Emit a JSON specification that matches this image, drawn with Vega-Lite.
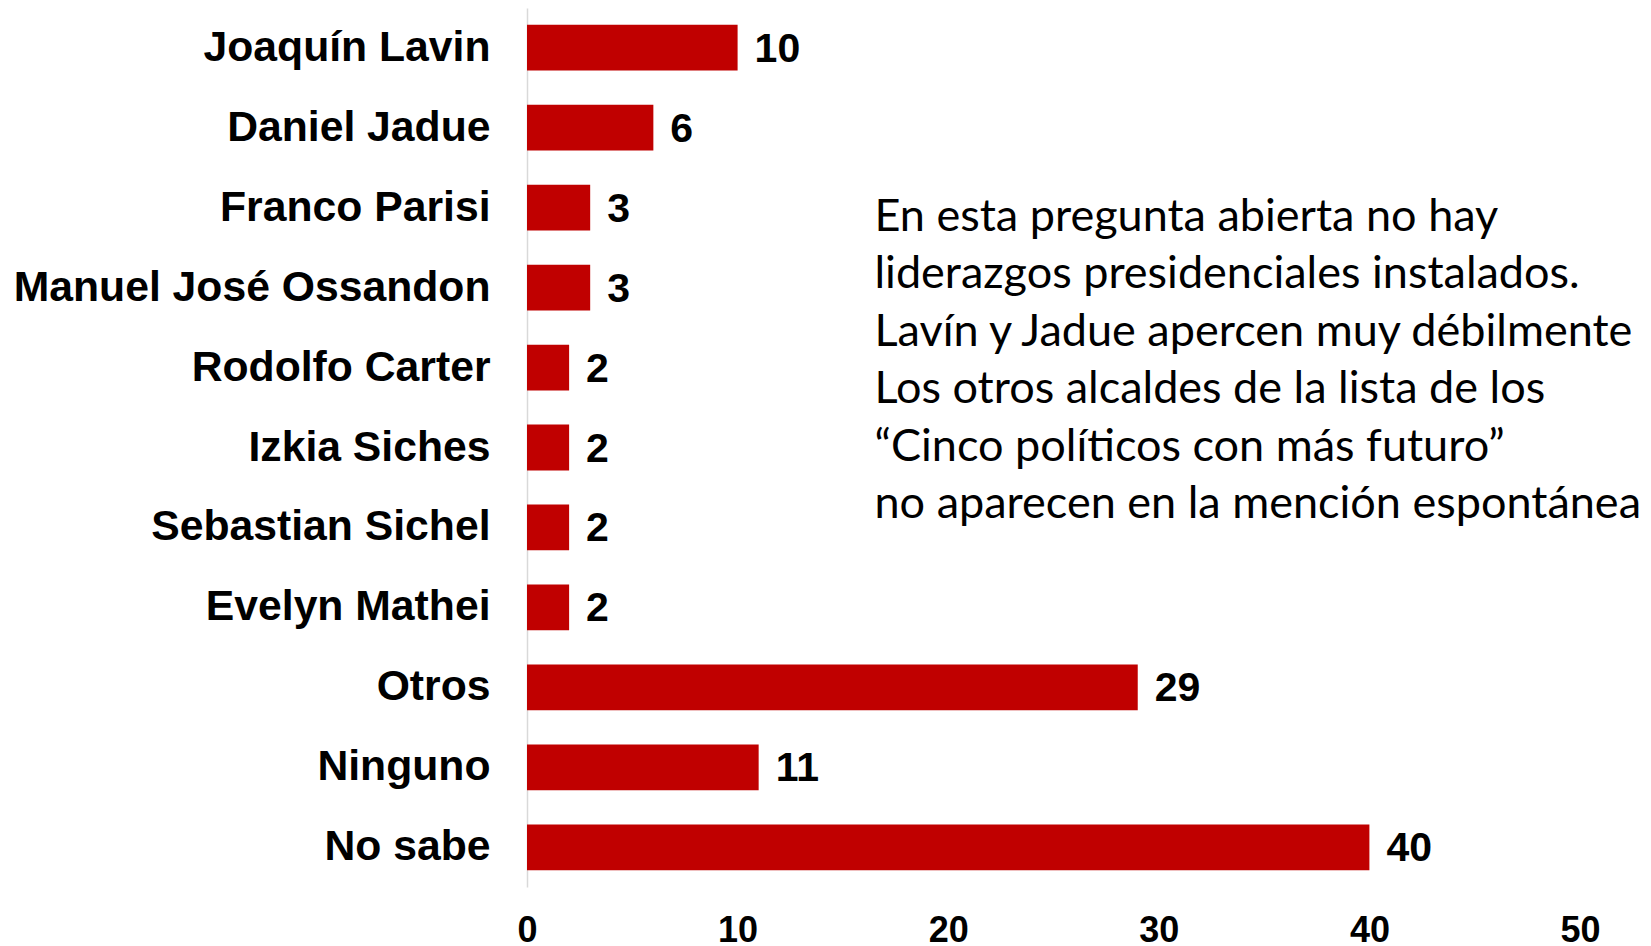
{
  "$schema": "https://vega.github.io/schema/vega-lite/v6.json",
  "autosize": {"type": "none"},
  "padding": {"left": 527, "top": 8, "right": 71, "bottom": 59},
  "width": 1053,
  "height": 879,
  "background": "white",
  "config": {"view": {"stroke": null}},
  "datasets": {
    "bars": [
      {"name": "Joaquín Lavin", "value": 10},
      {"name": "Daniel Jadue", "value": 6},
      {"name": "Franco Parisi", "value": 3},
      {"name": "Manuel José Ossandon", "value": 3},
      {"name": "Rodolfo Carter", "value": 2},
      {"name": "Izkia Siches", "value": 2},
      {"name": "Sebastian Sichel", "value": 2},
      {"name": "Evelyn Mathei", "value": 2},
      {"name": "Otros", "value": 29},
      {"name": "Ninguno", "value": 11},
      {"name": "No sabe", "value": 40}
    ],
    "note": [
      {"text": "En esta pregunta abierta no hay\nliderazgos presidenciales instalados.\nLavín y Jadue apercen muy débilmente\nLos otros alcaldes de la lista de los\n“Cinco políticos con más futuro”\nno aparecen en la mención espontánea"}
    ]
  },
  "layer": [
    {
      "data": {"name": "bars"},
      "mark": {"type": "bar", "color": "#C00000"},
      "encoding": {
        "y": {
          "field": "name", "type": "nominal", "sort": null,
          "scale": {"paddingInner": 0.427, "paddingOuter": 0.21},
          "axis": {
            "title": null, "ticks": false, "domain": true, "domainColor": "#d9d9d9", "domainWidth": 1.5,
            "labelFont": "Liberation Sans", "labelFontWeight": "bold", "labelFontSize": 42.7,
            "labelColor": "#000000", "labelPadding": 37, "labelLimit": 600
          }
        },
        "x": {
          "field": "value", "type": "quantitative",
          "scale": {"domain": [0, 50], "nice": false},
          "axis": {
            "title": null, "values": [0, 10, 20, 30, 40, 50], "grid": false, "domain": false,
            "ticks": false, "tickSize": 0, "labelFont": "Liberation Sans", "labelFontWeight": "bold",
            "labelFontSize": 36, "labelColor": "#000000", "labelPadding": 26, "labelFlush": false
          }
        }
      }
    },
    {
      "data": {"name": "bars"},
      "mark": {"type": "text", "align": "left", "baseline": "middle", "dx": 17, "dy": 2,
               "font": "Liberation Sans", "fontWeight": "bold", "fontSize": 41, "color": "#000000"},
      "encoding": {
        "y": {"field": "name", "type": "nominal", "sort": null},
        "x": {"field": "value", "type": "quantitative"},
        "text": {"field": "value", "type": "quantitative"}
      }
    },
    {
      "data": {"name": "note"},
      "mark": {"type": "text", "align": "left", "baseline": "top", "lineBreak": "\n", "lineHeight": 57.5,
               "font": "Lato", "fontSize": 45, "color": "#000000", "dy": -13},
      "encoding": {
        "x": {"datum": 16.5, "type": "quantitative"},
        "y": {"datum": "Franco Parisi", "type": "nominal"},
        "text": {"field": "text", "type": "nominal"}
      }
    }
  ]
}
